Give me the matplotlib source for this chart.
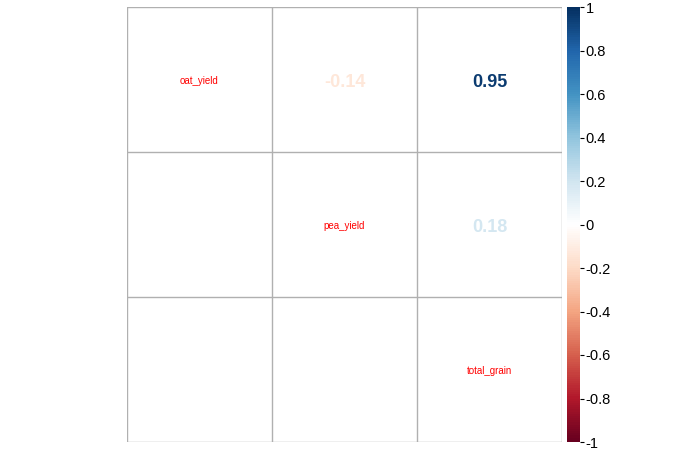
import numpy as np
import matplotlib
matplotlib.use("Agg")
import matplotlib.pyplot as plt
from matplotlib.colors import LinearSegmentedColormap, Normalize
from matplotlib.colorbar import ColorbarBase

plt.rcParams['font.family'] = ['Liberation Sans', 'DejaVu Sans']

## data
var_names = ['oat_yield', 'pea_yield', 'total_grain']
corr_pairs = [(0, 1), (0, 2), (1, 2)]   # (row, col) in upper triangle
corr_vals = [-0.14, 0.95, 0.18]

## corrplot RdBu palette
col2 = ["#67001F", "#B2182B", "#D6604D", "#F4A582", "#FDDBC7", "#FFFFFF",
        "#D1E5F0", "#92C5DE", "#4393C3", "#2166AC", "#053061"]
cmap = LinearSegmentedColormap.from_list('rdbu_cp', col2, N=200)
norm = Normalize(-1, 1)

W, H = 686, 451
fig = plt.figure(figsize=(W / 100, H / 100), dpi=100)
ax = fig.add_axes([127 / W, (H - 442) / H, 435 / W, 435 / H])
n = len(var_names)
ax.set_xlim(0, n)
ax.set_ylim(n, 0)
for k in range(n + 1):
    ax.axhline(k, color='#b0b0b0', lw=1)
    ax.axvline(k, color='#b0b0b0', lw=1)
for s in ax.spines.values():
    s.set_visible(False)
ax.set_xticks([])
ax.set_yticks([])

# diagonal labels
for i, name in enumerate(var_names):
    ax.text(i + 0.5, i + 0.51, name, color='red', fontsize=7, ha='center', va='center')

# correlation numbers
for (r, c), v in zip(corr_pairs, corr_vals):
    ax.text(c + 0.5, r + 0.52, '%.2f' % v, color=cmap(norm(v)), fontsize=13,
            fontweight='bold', ha='center', va='center')

# colour legend
cax = fig.add_axes([567 / W, (H - 442) / H, 13 / W, 435 / H])
cb = ColorbarBase(cax, cmap=cmap, norm=norm, orientation='vertical')
cb.set_ticks(np.arange(-1, 1.01, 0.2))
cb.set_ticklabels(['-1', '-0.8', '-0.6', '-0.4', '-0.2', '0', '0.2', '0.4', '0.6', '0.8', '1'])
cb.outline.set_visible(False)
cax.tick_params(labelsize=10.5, length=3, width=0.8, pad=1)

fig.savefig('out.png', dpi=100)
